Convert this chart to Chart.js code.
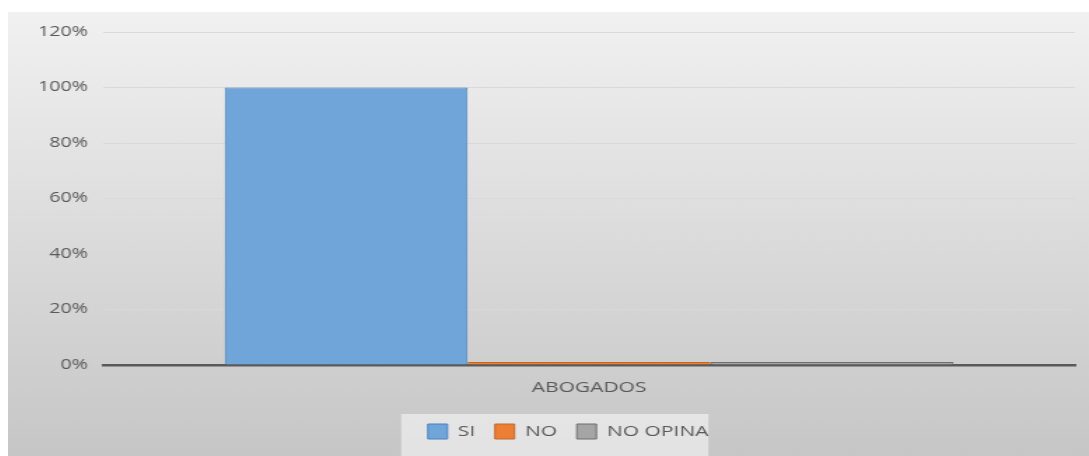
<!DOCTYPE html>
<html>
<head>
<meta charset="utf-8">
<script src="https://cdn.jsdelivr.net/npm/chart.js@4.4.1/dist/chart.umd.min.js"></script>
<style>
  html, body { margin: 0; padding: 0; background: #ffffff; width: 1089px; height: 456px; overflow: hidden; }
  #wrap { position: absolute; left: 8px; top: 12px; width: 772px; height: 444px; transform: scaleX(1.40026); transform-origin: 0 0; }
</style>
</head>
<body>
<div id="wrap"><canvas id="c"></canvas></div>
<script>
const categories = ['ABOGADOS'];
const seriesNames = ['SI', 'NO', 'NO OPINA'];
const siValues = [1.00];
const noValues = [0.00];
const noOpinaValues = [0.00];
const yTickLabels = ['0%', '20%', '40%', '60%', '80%', '100%', '120%'];

const bgPlugin = {
  id: 'bg',
  afterLayout(chart) {
    const lg = chart.legend;
    if (lg) { lg.left += 19; lg.right += 19; }
  },
  beforeDraw(chart) {
    const ctx = chart.ctx;
    const w = chart.width, h = chart.height;
    ctx.save();
    const g = ctx.createLinearGradient(0, 0, 0, h);
    g.addColorStop(0, '#f1f1f1');
    g.addColorStop(1, '#c6c6c6');
    ctx.fillStyle = g;
    ctx.fillRect(0, 0, w, h);
    const lg = chart.legend;
    if (lg && lg.legendHitBoxes && lg.legendHitBoxes.length) {
      const hb = lg.legendHitBoxes;
      const x0 = hb[0].left - 19;
      const x1 = hb[hb.length - 1].left + hb[hb.length - 1].width;
      ctx.fillStyle = 'rgba(255,255,255,0.5)';
      ctx.fillRect(x0, lg.top + 4, x1 - x0, h - lg.top - 4);
    }
    ctx.restore();
  }
};

new Chart(document.getElementById('c'), {
  type: 'bar',
  data: {
    labels: categories,
    datasets: [
      { label: seriesNames[0], data: siValues, backgroundColor: '#6fa5d9', borderColor: '#4a80bd', borderWidth: 1, minBarLength: 3 },
      { label: seriesNames[1], data: noValues, backgroundColor: '#ec7f33', borderColor: '#c0682a', borderWidth: 1, minBarLength: 3 },
      { label: seriesNames[2], data: noOpinaValues, backgroundColor: '#a5a5a5', borderColor: '#6f6f6f', borderWidth: 1, minBarLength: 3 }
    ]
  },
  options: {
    responsive: true,
    maintainAspectRatio: false,
    animation: false,
    layout: { padding: { top: 20, right: 10, bottom: 7, left: 0 } },
    datasets: { bar: { categoryPercentage: 0.75, barPercentage: 1.0 } },
    scales: {
      x: {
        grid: { display: false },
        border: { display: true, color: '#5a5a5a', width: 2.5 },
        ticks: { color: '#595959', font: { family: 'Open Sans', size: 15 }, padding: 6 },
        afterFit(s) { s.height = 45; }
      },
      y: {
        min: 0, max: 1.2,
        ticks: {
          stepSize: 0.2,
          color: '#595959',
          font: { family: 'Open Sans', size: 14 },
          padding: 11,
          callback: (v, i) => yTickLabels[i]
        },
        grid: { color: '#d9d9d9', lineWidth: 1, drawTicks: false },
        border: { display: false },
        afterFit(s) { s.width = 68; }
      }
    },
    plugins: {
      legend: {
        position: 'bottom',
        labels: {
          color: '#595959',
          font: { family: 'Open Sans', size: 15 },
          boxWidth: 14,
          boxHeight: 15,
          padding: 14
        }
      },
      tooltip: { enabled: false }
    }
  },
  plugins: [bgPlugin]
});
</script>
</body>
</html>
